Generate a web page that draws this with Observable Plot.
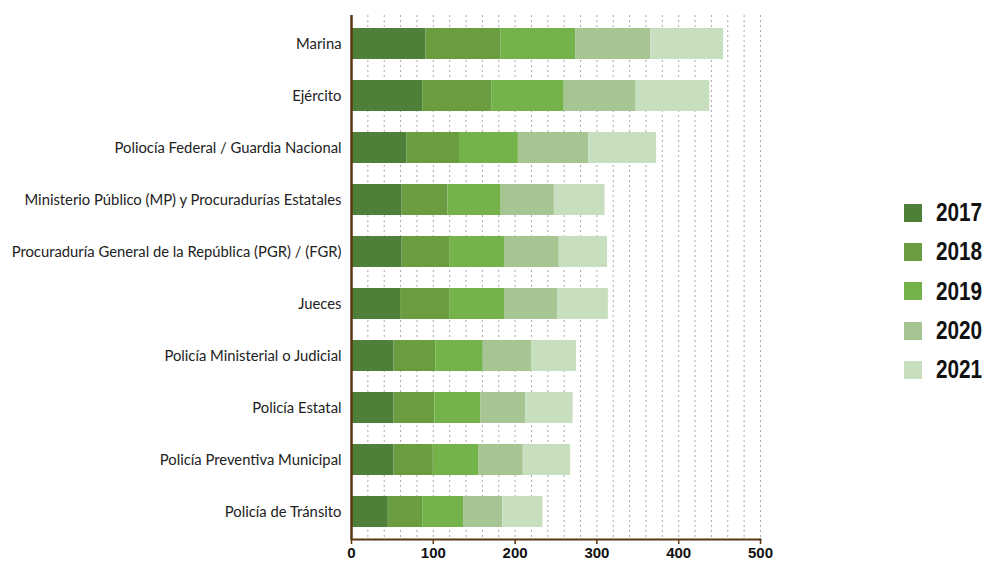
<!DOCTYPE html>
<html>
<head>
<meta charset="utf-8">
<script src="https://cdn.jsdelivr.net/npm/d3@7"></script>
<script src="https://cdn.jsdelivr.net/npm/@observablehq/plot@0.6"></script>
<style>
  html, body { margin: 0; padding: 0; background: #fff; }
  #wrap { position: relative; width: 986px; height: 562px; overflow: hidden; }
  #legend { position: absolute; left: 904px; top: 193px; font-family: "Liberation Sans", Arial, sans-serif; font-weight: bold; font-size: 25px; color: #111; }
  .item { display: flex; align-items: center; height: 39.3px; }
  .sw { width: 18px; height: 18px; margin-right: 14px; flex: none; }
  .lab { display: inline-block; transform: scaleX(0.83); transform-origin: left center; }
</style>
</head>
<body>
<div id="wrap"><div id="chart"></div><div id="legend"></div></div>
<script>
const categories = [
  "Marina",
  "Ejército",
  "Poliocía Federal / Guardia Nacional",
  "Ministerio Público (MP) y Procuradurías Estatales",
  "Procuraduría General de la República (PGR) / (FGR)",
  "Jueces",
  "Policía Ministerial o Judicial",
  "Policía Estatal",
  "Policía Preventiva Municipal",
  "Policía de Tránsito"
];
const years = ["2017", "2018", "2019", "2020", "2021"];
const v2017 = [91, 87, 68, 62, 62, 60, 52, 52, 52, 45];
const v2018 = [92, 85, 64, 56, 58, 60, 51, 50, 48, 42];
const v2019 = [91, 88, 72, 65, 67, 67, 58, 56, 56, 50];
const v2020 = [92, 88, 86, 65, 67, 65, 59, 55, 54, 48];
const v2021 = [89, 90, 83, 62, 59, 62, 55, 58, 58, 49];
const colors = ["#4f803a", "#6a9c40", "#73b34a", "#a6c593", "#c7dfbf"];
const xTicks = [0, 100, 200, 300, 400, 500];

const series = [v2017, v2018, v2019, v2020, v2021];
const data = [];
years.forEach((yr, i) => categories.forEach((c, j) => data.push({category: c, year: yr, value: series[i][j]})));

const brown = "#5b3612";

const chart = Plot.plot({
  width: 880,
  height: 562,
  marginLeft: 351,
  marginRight: 120,
  marginTop: 15,
  marginBottom: 23,
  x: {domain: [0, 500]},
  y: {domain: categories, paddingInner: 0.41, paddingOuter: 0.205},
  color: {domain: years, range: colors},
  style: {background: "#fff"},
  marks: [
    Plot.gridX(d3.range(20, 501, 20), {stroke: "#a8a8a8", strokeOpacity: 1, strokeDasharray: "2,3"}),
    Plot.barX(data, {x: "value", y: "category", fill: "year"}),
    Plot.axisY({tickSize: 0, tickPadding: 10, fontSize: 14.8, fontFamily: "Lato, 'Open Sans', sans-serif", fill: "#222", label: null}),
    Plot.axisX({ticks: xTicks, tickSize: 5, stroke: brown, strokeWidth: 1.5, tickPadding: 3, fontSize: 15, fontWeight: "bold", fontFamily: "'Liberation Sans', Arial, sans-serif", fill: "#111", label: null}),
    Plot.frame({anchor: "bottom", stroke: brown, strokeWidth: 2}),
    Plot.ruleX([0], {stroke: brown, strokeWidth: 2.5})
  ]
});
document.getElementById("chart").appendChild(chart);

const legend = document.getElementById("legend");
years.forEach((yr, i) => {
  const it = document.createElement("div");
  it.className = "item";
  const sw = document.createElement("div");
  sw.className = "sw";
  sw.style.background = colors[i];
  const t = document.createElement("span");
  t.className = "lab";
  t.textContent = yr;
  it.appendChild(sw); it.appendChild(t);
  legend.appendChild(it);
});
</script>
</body>
</html>
